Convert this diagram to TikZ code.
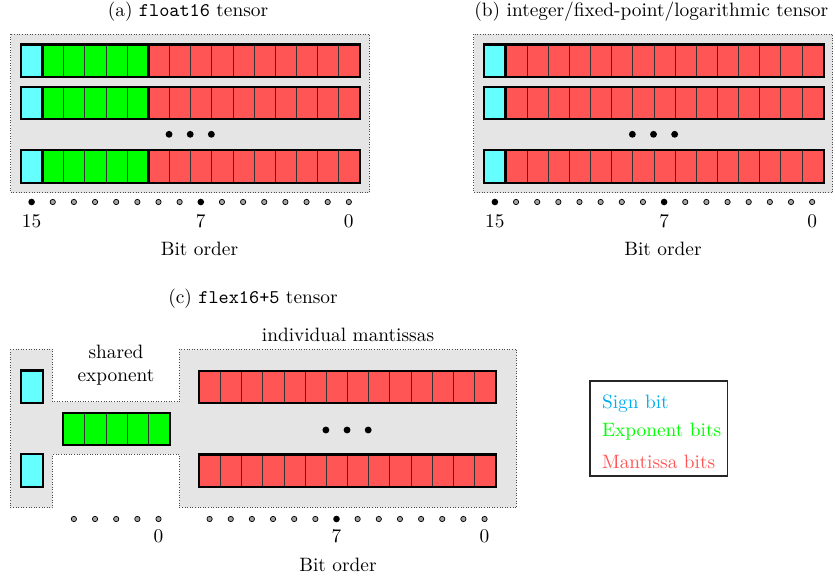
\documentclass[tikz,border=0pt]{standalone}
\usepackage{tikz}
\usetikzlibrary{positioning}
\definecolor{signcyan}{RGB}{102,255,255}
\definecolor{expgreen}{RGB}{0,255,0}
\definecolor{manred}{RGB}{255,85,85}
\definecolor{panelgray}{RGB}{229,229,229}

\tikzset{
  bitcell/.style={draw=black!80, line width=0.5pt, minimum width=0.4cm, minimum height=0.6cm, inner sep=0pt, anchor=north west},
  signcell/.style={bitcell, fill=signcyan},
  expcell/.style={bitcell, fill=expgreen},
  mancell/.style={bitcell, fill=manred},
  fieldbox/.style={draw=black, line width=1.1pt},
  panelbg/.style={fill=panelgray, draw=black!70, densely dotted, line width=0.4pt},
  bitdot/.style={circle, draw=black, fill=black!35, line width=0.4pt, minimum size=0.1cm, inner sep=0pt},
  keydot/.style={circle, fill=black, minimum size=0.125cm, inner sep=0pt},
  morerows/.style={circle, fill=black, minimum size=0.13cm, inner sep=0pt},
}

\begin{document}
\begin{tikzpicture}[x=0.018913cm, y=-0.018913cm, font=\fontsize{10.4pt}{12.5pt}\selectfont]
\useasboundingbox (0,0) rectangle (835,577);

% (a) float16
\node[anchor=base] (titleA) at (188,17) {(a) \texttt{float16} tensor};
\draw[panelbg] (10.5,34) rectangle (369.5,192.5);
\foreach \r/\y in {1/44.5, 2/86.8, 3/150.2} {
  \node[signcell] (a\r-0) at (21,\y) {};
  \foreach \i in {1,...,5} \node[expcell] (a\r-\i) at ({21+21.15*\i},\y) {};
  \foreach \i in {6,...,15} \node[mancell] (a\r-\i) at ({21+21.15*\i},\y) {};
  \draw[fieldbox] (a\r-0.north west) rectangle (a\r-0.south east);
  \draw[fieldbox] (a\r-1.north west) rectangle (a\r-5.south east);
  \draw[fieldbox] (a\r-6.north west) rectangle (a\r-15.south east);
}
\foreach \k in {7,8,9} \node[morerows] (amore\k) at ({21+21.15*\k},134.3) {};
\foreach \i in {1,...,7} \node[bitdot] (abit\i) at ({31.6+21.15*\i},202) {};
\foreach \i in {9,...,15} \node[bitdot] (abit\i) at ({31.6+21.15*\i},202) {};
\node[keydot] (abit0) at (31.6,202) {};
\node[keydot] (abit8) at ({31.6+21.15*8},202) {};
\node[anchor=base] (alab15) at (31.6,227) {15};
\node[anchor=base] (alab7) at (200.8,227) {7};
\node[anchor=base] (alab0) at (348.8,227) {0};
\node[anchor=base] (aorder) at (199.5,255) {Bit order};

% (b) integer / fixed-point / logarithmic
\node[anchor=base] (titleB) at (651.3,17) {(b) integer/fixed-point/logarithmic tensor};
\draw[panelbg] (473.8,34) rectangle (832.8,192.5);
\foreach \r/\y in {1/44.5, 2/86.8, 3/150.2} {
  \node[signcell] (b\r-0) at (484.3,\y) {};
  \foreach \i in {1,...,15} \node[mancell] (b\r-\i) at ({484.3+21.15*\i},\y) {};
  \draw[fieldbox] (b\r-0.north west) rectangle (b\r-0.south east);
  \draw[fieldbox] (b\r-1.north west) rectangle (b\r-15.south east);
}
\foreach \k in {7,8,9} \node[morerows] (bmore\k) at ({484.3+21.15*\k},134.3) {};
\foreach \i in {1,...,7} \node[bitdot] (bbit\i) at ({494.9+21.15*\i},202) {};
\foreach \i in {9,...,15} \node[bitdot] (bbit\i) at ({494.9+21.15*\i},202) {};
\node[keydot] (bbit0) at (494.9,202) {};
\node[keydot] (bbit8) at ({494.9+21.15*8},202) {};
\node[anchor=base] (blab15) at (494.9,227) {15};
\node[anchor=base] (blab7) at (664.1,227) {7};
\node[anchor=base] (blab0) at (812.1,227) {0};
\node[anchor=base] (border) at (663,255) {Bit order};

% (c) flex16+5
\node[anchor=base] (titleC) at (253,303) {(c) \texttt{flex16+5} tensor};
\draw[panelbg] (10.3,349.3) -- (52.7,349.3) -- (52.7,401.7) -- (179.3,401.7) -- (179.3,349.3)
  -- (516.7,349.3) -- (516.7,507.7) -- (179.3,507.7) -- (179.3,454.3) -- (52.7,454.3)
  -- (52.7,507.7) -- (10.3,507.7) -- cycle;
\node[align=center] (shared) at (116,365) {shared\\exponent};
\node[anchor=base] (indiv) at (348,341.7) {individual mantissas};
% sign bits
\node[signcell] (c1-s) at (21,370.5) {};
\node[signcell] (c3-s) at (21,454.3) {};
\draw[fieldbox] (c1-s.north west) rectangle (c1-s.south east);
\draw[fieldbox] (c3-s.north west) rectangle (c3-s.south east);
% shared exponent
\foreach \i in {0,...,4} \node[expcell] (ce-\i) at ({63.3+21.15*\i},412.7) {};
\draw[fieldbox] (ce-0.north west) rectangle (ce-4.south east);
% mantissas
\foreach \r/\y in {1/370.8, 3/454.5} {
  \foreach \i in {0,...,13} \node[mancell] (c\r-\i) at ({199+21.15*\i},\y) {};
  \draw[fieldbox] (c\r-0.north west) rectangle (c\r-13.south east);
}
\foreach \k in {6,7,8} \node[morerows] (cmore\k) at ({199+21.15*\k},430) {};
\foreach \i in {0,...,4} \node[bitdot] (cebit\i) at ({73.9+21.15*\i},519) {};
\foreach \i in {0,...,5} \node[bitdot] (cbit\i) at ({209.6+21.15*\i},519) {};
\foreach \i in {7,...,13} \node[bitdot] (cbit\i) at ({209.6+21.15*\i},519) {};
\node[keydot] (cbit6) at ({209.6+21.15*6},519) {};
\node[anchor=base] (celab0) at (158.5,542.7) {0};
\node[anchor=base] (clab7) at (336.5,542.7) {7};
\node[anchor=base] (clab0) at (484.5,542.7) {0};
\node[anchor=base] (corder) at (338,571.7) {Bit order};

% legend
\node[draw=black!85, line width=0.9pt, minimum width=2.6cm, minimum height=1.8cm, inner sep=0pt] (legend) at (658.7,428.5) {};
\node[anchor=base west, text=cyan] (keysign) at (595.5,408.3) {Sign bit};
\node[anchor=base west, text=expgreen] (keyexp) at (595.5,436.7) {Exponent bits};
\node[anchor=base west, text=manred] (keyman) at (595.5,468.3) {Mantissa bits};
\end{tikzpicture}
\end{document}
